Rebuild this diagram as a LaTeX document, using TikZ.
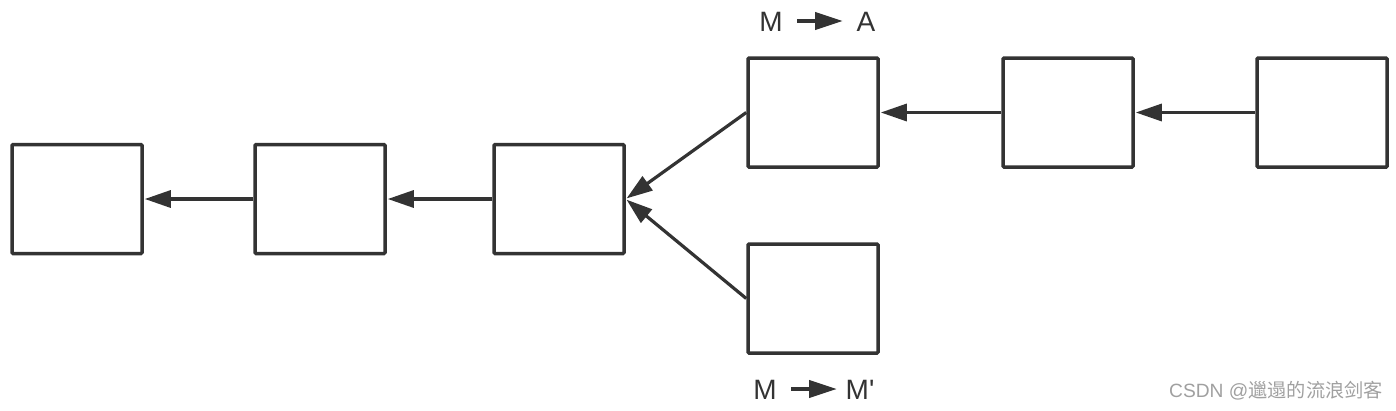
\documentclass[tikz,border=0pt]{standalone}
\usepackage{fontspec}
\setmainfont{Liberation Sans}
\newfontfamily\cjk{Noto Sans CJK SC}
\usetikzlibrary{arrows.meta}
\definecolor{ink}{HTML}{333333}
\definecolor{wm}{HTML}{A0A0A0}
\begin{document}
\begin{tikzpicture}[x=1pt,y=-1pt,
  blk/.style={draw=ink,line width=3.5pt,rounded corners=1pt,minimum width=130pt,minimum height=109pt,inner sep=0pt},
  link/.style={draw=ink,line width=3.2pt,-{Triangle[length=26pt,width=17pt]},shorten >=1pt},
  lab/.style={text=ink,font=\fontsize{28}{30}\selectfont,inner sep=0pt,anchor=base},
  mini/.style={draw=ink,line width=4pt,-{Triangle[length=28pt,width=17pt]}}]
\useasboundingbox (0,0) rectangle (1396,410);
\node[blk] (b1) at (77,199) {};
\node[blk] (b2) at (320,199) {};
\node[blk] (b3) at (559,199) {};
\node[blk] (b4) at (813,112.5) {};
\node[blk] (b5) at (1068,112.5) {};
\node[blk] (b6) at (1322,112.5) {};
\node[blk] (b7) at (813,298.5) {};
\draw[link] (b2.west) -- (b1.east);
\draw[link] (b3.west) -- (b2.east);
\draw[link] (b4.west) -- (b3.east);
\draw[link] (b7.west) -- (b3.east);
\draw[link] (b5.west) -- (b4.east);
\draw[link] (b6.west) -- (b5.east);
\node[lab] (t1) at (771,31) {M};
\node[lab] (t2) at (866,31) {A};
\coordinate (a1s) at (797,21);
\coordinate (a1e) at (843,21);
\draw[mini] (a1s) -- (a1e);
\node[lab] (u1) at (765,399) {M};
\node[lab] (u2) at (860,399) {M\textquotesingle};
\coordinate (a2s) at (791,389);
\coordinate (a2e) at (837,389);
\draw[mini] (a2s) -- (a2e);
\node[text=wm,font=\fontsize{19.2}{21}\selectfont,anchor=base east,inner sep=0pt] (wmk) at (1383,397) {CSDN @{\cjk 邋遢的流浪剑客}};
\end{tikzpicture}
\end{document}
